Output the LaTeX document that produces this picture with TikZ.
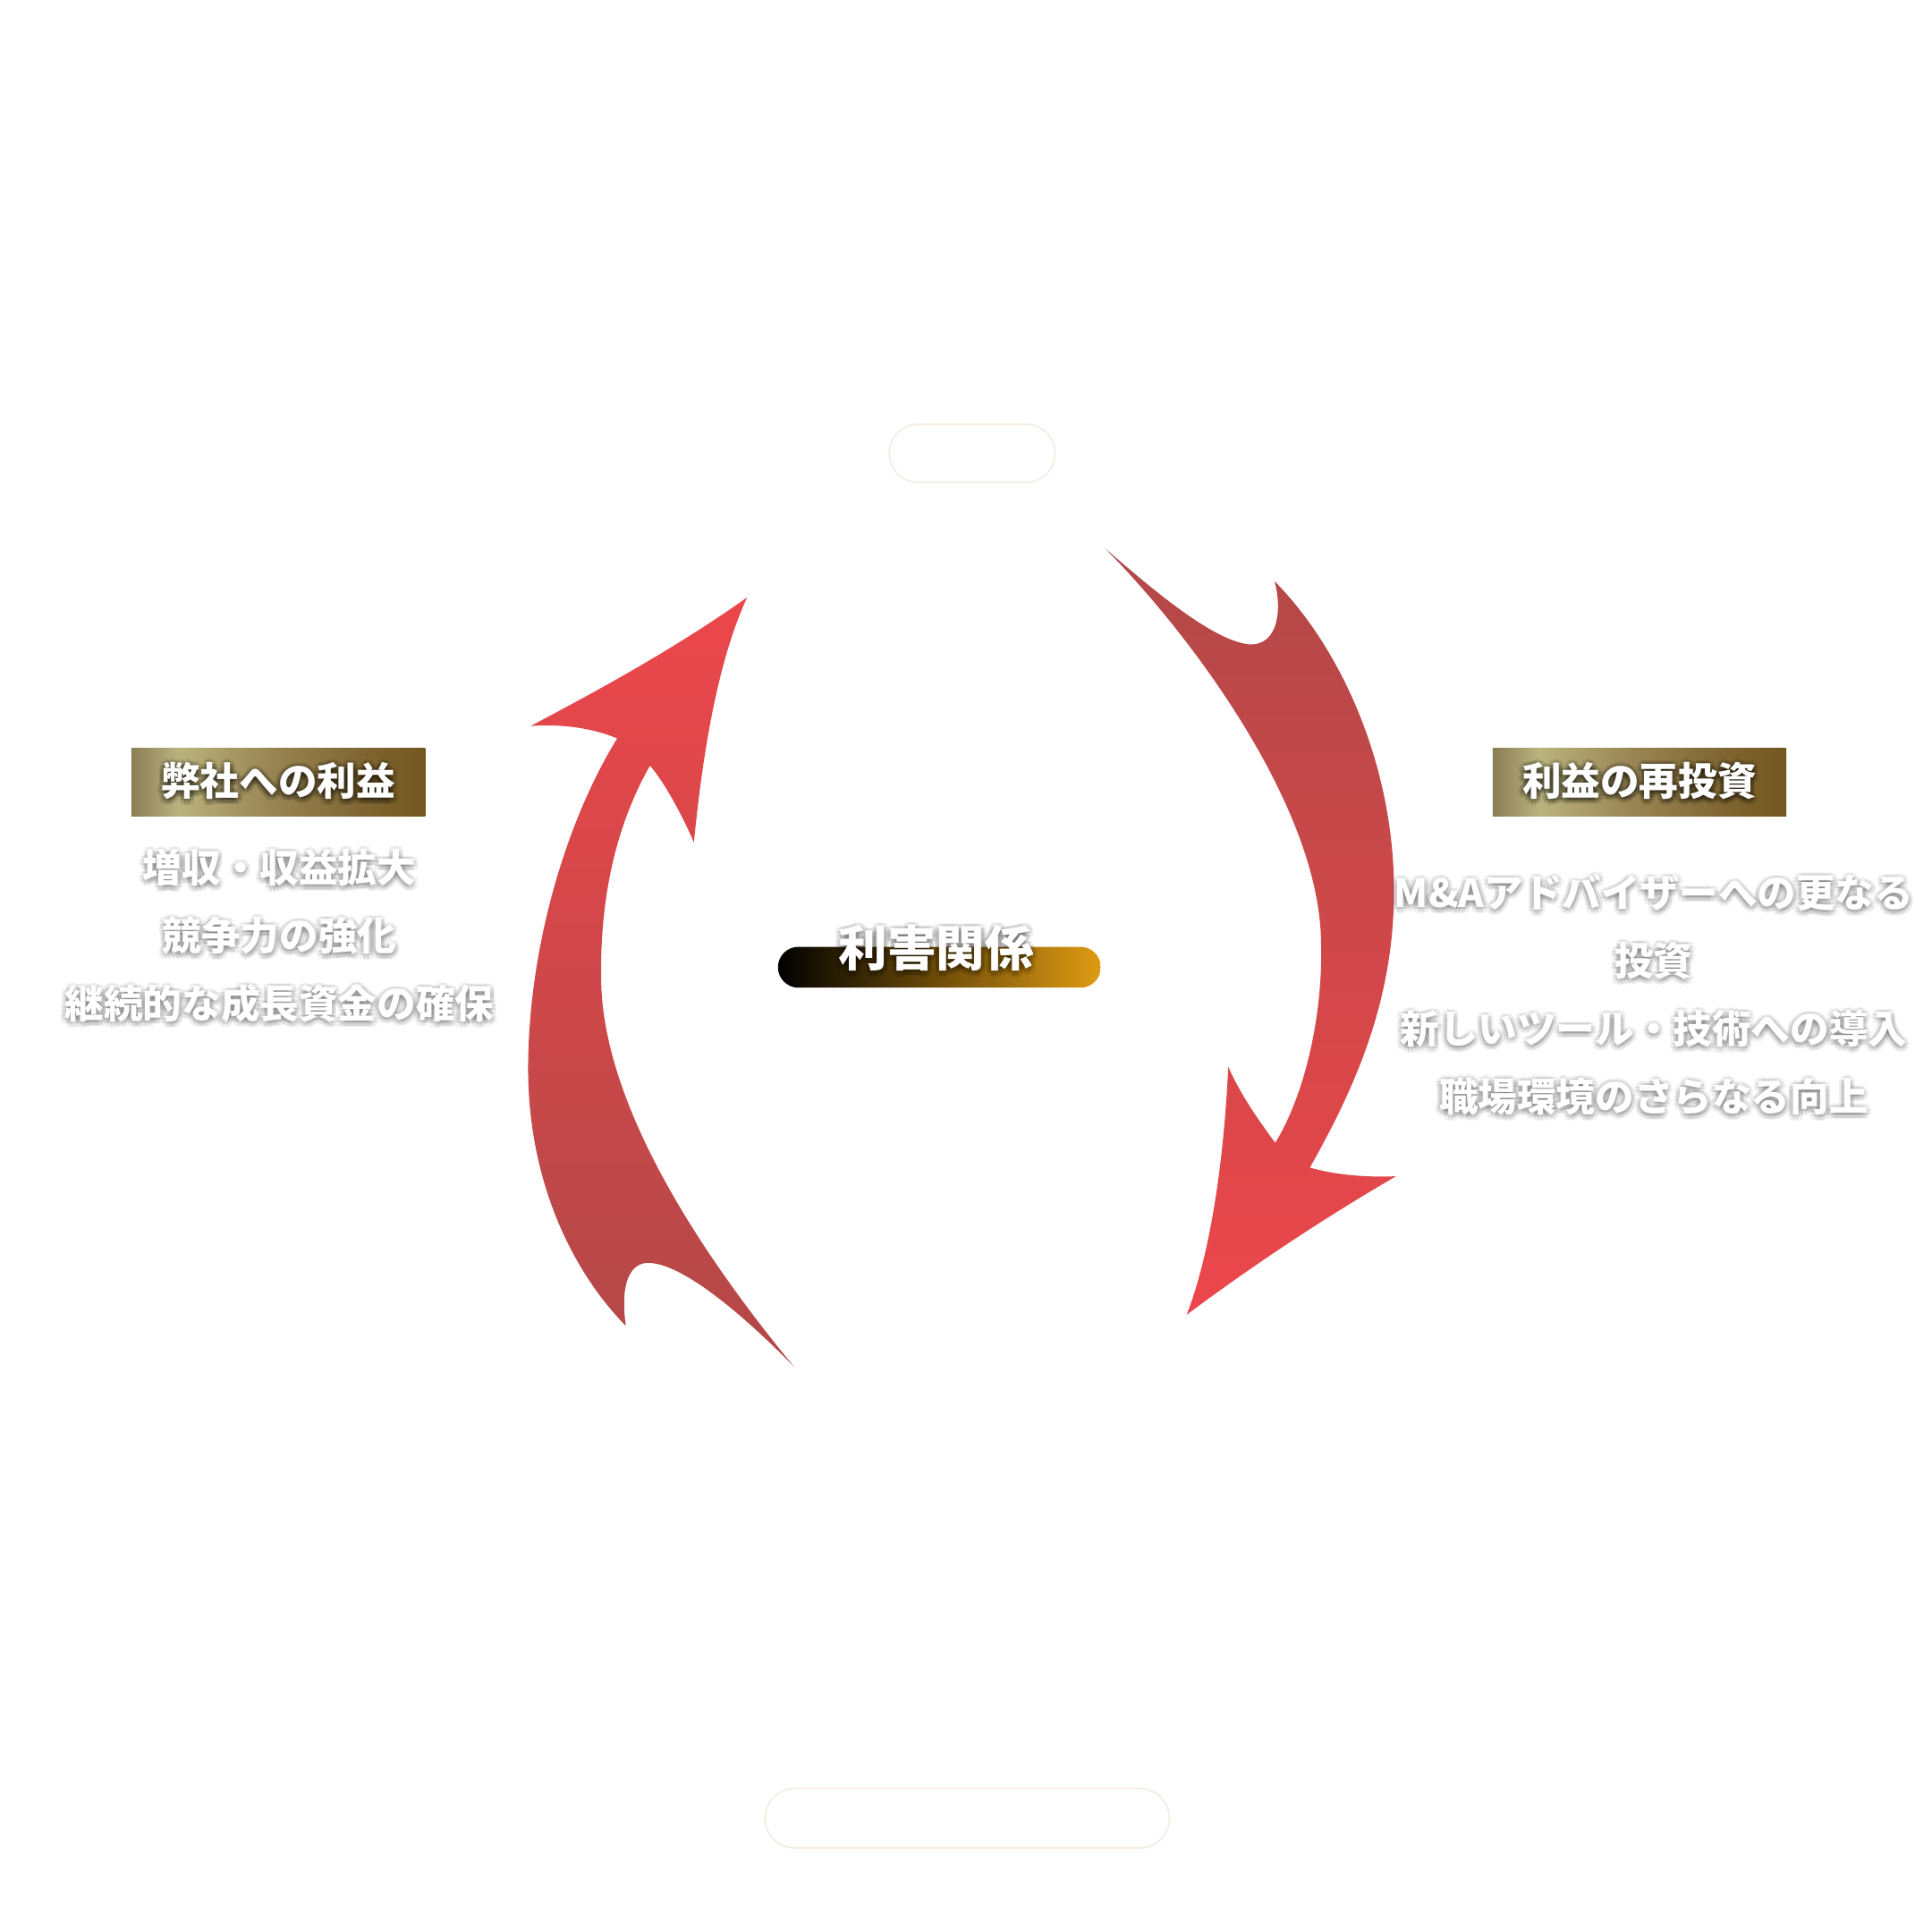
\documentclass[tikz,border=0pt]{standalone}
\usepackage{fontspec}
\newfontfamily\jpfont{Noto Sans CJK JP}
\definecolor{arrowtop}{HTML}{EC474B}
\definecolor{arrowbot}{HTML}{B24848}
\definecolor{barorange}{HTML}{DF9B12}
\definecolor{goldA}{HTML}{8A7E55}
\definecolor{goldB}{HTML}{BAB37D}
\definecolor{goldC}{HTML}{9A8755}
\definecolor{goldD}{HTML}{7E6430}
\definecolor{goldE}{HTML}{74571F}
\definecolor{pillline}{HTML}{F4EDE2}
\pgfdeclarehorizontalshading{goldbar}{100bp}{color(0bp)=(goldA); color(25bp)=(goldA); color(33bp)=(goldB); color(48bp)=(goldC); color(65bp)=(goldD); color(75bp)=(goldE); color(100bp)=(goldE)}
\newcommand{\hazetext}[2][0.055]{%
  \foreach \hx/\hy in {1.5/-0.6,-1.5/-0.6,0/0.9,0/-2.1,1.1/0.5,-1.1/0.5,1.1/-1.7,-1.1/-1.7,0.7/-0.6,-0.7/-0.6,0/0.1,0/-1.3}{%
    \rlap{\kern\hx pt\raisebox{\hy pt}{\pgfsetfillopacity{#1}\color{black}#2}}}%
  \pgfsetfillopacity{1}#2}
\tikzset{
  uparrow/.style={top color=arrowtop, bottom color=arrowbot},
  downarrow/.style={top color=arrowbot, bottom color=arrowtop},
  hdrbox/.style={shade, shading=goldbar, minimum width=93.4pt, minimum height=21.6pt, inner sep=0pt, text=white, font=\jpfont\bfseries\fontsize{12.4}{15}\selectfont},
  pointlist/.style={text=white, align=center, inner sep=0pt, font=\jpfont\bfseries\fontsize{12.4}{21.6}\selectfont},
  pill/.style={draw=pillline, line width=0.5pt, rounded corners=9.2pt, inner sep=0pt, minimum height=18.5pt},
  titlebar/.style={shade, left color=black, right color=barorange, rounded corners=6.5pt, minimum width=102.7pt, minimum height=13pt, inner sep=0pt},
  titletext/.style={text=white, inner sep=0pt, font=\jpfont\bfseries\fontsize{15.5}{18}\selectfont}
}
\begin{document}
\begin{tikzpicture}[x=0.13828mm, y=-0.13828mm]
	\fill[white] (0,0) rectangle (1562,1562);

	\shade[uparrow] (604,483) .. controls (545,525) and (480,560) .. (429,587)
		.. controls (455,585) and (480,589) .. (499,597)
		.. controls (460,660) and (428,760) .. (427,860)
		.. controls (426,950) and (460,1025) .. (506,1072)
		.. controls (502,1045) and (506,1022) .. (523,1021)
		.. controls (550,1020) and (600,1062) .. (642,1105)
		.. controls (580,1030) and (486,900) .. (486,790)
		.. controls (485,710) and (505,655) .. (525.5,619)
		.. controls (537,632) and (552,660) .. (561,681)
		.. controls (568,610) and (580,535) .. (604,483) -- cycle;
	\shade[downarrow] (893,443) .. controls (930,475) and (980,518) .. (1010,521)
		.. controls (1035,522) and (1036,490) .. (1030.5,470)
		.. controls (1085,525) and (1127,620) .. (1127,720)
		.. controls (1127,810) and (1095,880) .. (1059,944)
		.. controls (1080,950) and (1105,952) .. (1128.6,951)
		.. controls (1070,985) and (1010,1025) .. (959.4,1063)
		.. controls (980,1010) and (990,930) .. (993,862.5)
		.. controls (1003,885) and (1017,905) .. (1031,924)
		.. controls (1055,885) and (1070,820) .. (1068,760)
		.. controls (1066,650) and (960,510) .. (893,443) -- cycle;

	\node[pill, minimum width=52.7pt] (toppill) at (786,366.5) {};
	\node[pill, minimum width=128.6pt, minimum height=18.9pt, rounded corners=9.4pt] (bottompill) at (782,1470) {};

	\node[titlebar] (bar) at (759.5,782) {};
	\node[titletext] (title) at (757,768) {\hazetext[0.07]{利害関係}};

	\node[hdrbox] (ourgain) at (225,632.5) {\hazetext[0.1]{弊社への利益}};
	\node[hdrbox] (reinvest) at (1325.5,632.5) {\hazetext[0.1]{利益の再投資}};

	\node[pointlist] (gainlist) at (226,758) {\hazetext{増収・収益拡大}\\\hazetext{競争力の強化}\\\hazetext{継続的な成長資金の確保}};
	\node[pointlist] (investlist) at (1337,805.5) {\hazetext{M\&Aアドバイザーへの更なる}\\\hazetext{投資}\\\hazetext{新しいツール・技術への導入}\\\hazetext{職場環境のさらなる向上}};
\end{tikzpicture}
\end{document}
